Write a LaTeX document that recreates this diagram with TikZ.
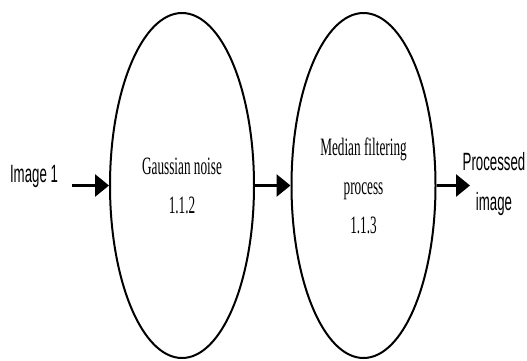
\documentclass[tikz,border=0pt]{standalone}
\usepackage{fontspec}
\usetikzlibrary{shapes.geometric, arrows.meta, positioning}
\newfontfamily\labelfont{Liberation Sans}[FakeStretch=0.53]
\newfontfamily\stepfont{Liberation Serif}[FakeStretch=0.53]

\begin{document}
\begin{tikzpicture}[x=1pt, y=-1pt, >={Triangle[length=14pt, width=22pt]}]
    \useasboundingbox (0,0) rectangle (527,360);
    \tikzset{
        process/.style={ellipse, draw, line width=2pt, minimum width=144pt,
            minimum height=345pt, inner sep=0pt, align=center,
            font=\stepfont\fontsize{25}{39}\selectfont},
        flow/.style={->, line width=3pt},
        io/.style={align=center, inner sep=0pt,
            font=\labelfont\fontsize{25}{40}\selectfont}
    }

    \node[process] (noise) at (182, 185.5) {Gaussian noise\\1.1.2};
    \node[process] (median) at (363.5, 185.5) {Median filtering\\process\\1.1.3};

    \node[io] (input) at (34, 176) {Image 1};
    \node[io] (output) at (494, 184) {Processed\\image};

    \coordinate (inStart) at (72, 185.5);
    \coordinate (outEnd) at (470, 185.5);

    \draw[flow] (inStart) -- (noise.west);
    \draw[flow] (noise.east) -- (median.west);
    \draw[flow] (median.east) -- (outEnd);
\end{tikzpicture}
\end{document}
